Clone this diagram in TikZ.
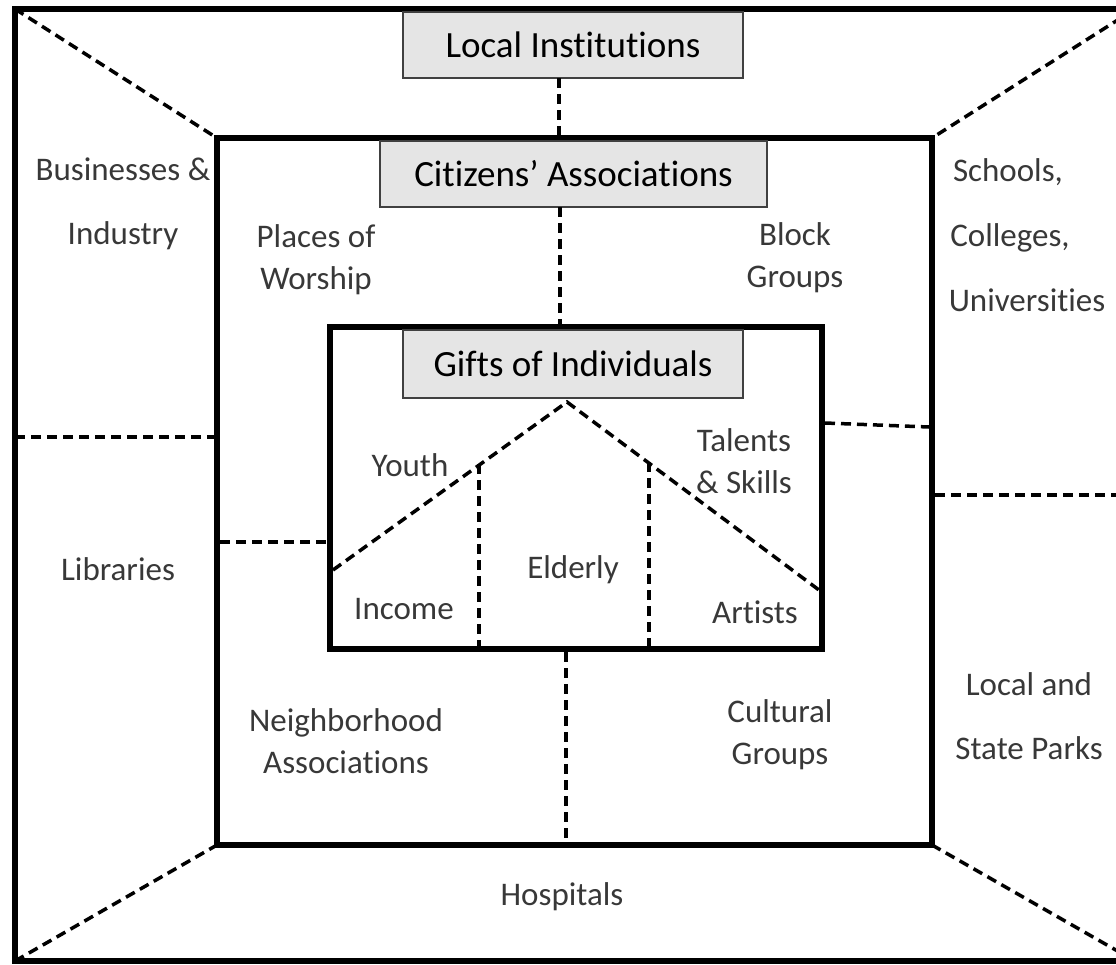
\documentclass[tikz,border=0pt]{standalone}
\usepackage{fontspec}
\setmainfont{Carlito}[Ligatures={NoCommon,NoContextual}]
\usetikzlibrary{positioning}

\begin{document}
\begin{tikzpicture}[x=1pt,y=-1pt,
    frame/.style={line width=6pt},
    link/.style={line width=3.5pt,dash pattern=on 10pt off 6pt},
    title/.style={draw=black!75,fill=black!10,line width=1.3pt,minimum height=66pt,font=\fontsize{37}{40}\selectfont},
    lbl/.style={align=center,text=black!78,font=\fontsize{33}{42}\selectfont},
    widelbl/.style={align=center,text=black!78,font=\fontsize{33}{64}\selectfont}]
    \useasboundingbox (0,0) rectangle (1116,964);
    % frames
    \coordinate (oNW) at (15,9);    \coordinate (oSE) at (1135,961);
    \coordinate (oNE) at (1135,9);  \coordinate (oSW) at (15,961);
    \coordinate (mNW) at (217,138); \coordinate (mSE) at (932,845);
    \coordinate (mNE) at (932,138); \coordinate (mSW) at (217,845);
    \coordinate (iNW) at (330,327); \coordinate (iSE) at (822,649);
    \draw[frame] (oNW) rectangle (oSE);
    \draw[frame] (mNW) rectangle (mSE);
    \draw[frame] (iNW) rectangle (iSE);
    % title boxes
    \node[title,minimum width=340pt] (local) at (573,45) {Local Institutions};
    \node[title,minimum width=387pt] (citizens) at (573.5,174) {Citizens’ Associations};
    \node[title,minimum width=340pt,minimum height=68pt] (gifts) at (573,364) {Gifts of Individuals};
    % dashed links
    \draw[link] (oNW) -- (mNW);
    \draw[link] (oNE) -- (mNE);
    \draw[link] (oSW) -- (mSW);
    \draw[link] (oSE) -- (mSE);
    \draw[link] (559,78) -- (559,135);
    \draw[link] (560,207) -- (560,324);
    \draw[link] (15,437) -- (214,437);
    \draw[link] (220,542) -- (327,542);
    \draw[link] (825,423) -- (929,427);
    \draw[link] (935,495) -- (1116,495);
    \draw[link] (566,652) -- (566,842);
    % roof
    \coordinate (roofL) at (333,570);
    \coordinate (apex) at (567,402);
    \coordinate (roofR) at (819,590);
    \draw[link] (roofL) -- (apex) -- (roofR);
    \draw[link] (479,464) -- (479,646);
    \draw[link] (649,462) -- (649,646);
    % labels
    \node[widelbl] (business) at (123,204) {Businesses \&\\Industry};
    \node[lbl] (libraries) at (118,569) {Libraries};
    \node[lbl] (hospitals) at (562,897) {Hospitals};
    \node[lbl] (schools) at (1008,172) {Schools,};
    \node[lbl] (colleges) at (1010,238) {Colleges,};
    \node[lbl] (univ) at (1027,300) {Universities};
    \node[widelbl] (parks) at (1029,716) {Local and\\State Parks};
    \node[lbl] (worship) at (316,260) {Places of\\Worship};
    \node[lbl] (block) at (795,258) {Block\\Groups};
    \node[lbl] (neighbor) at (346,741) {Neighborhood\\Associations};
    \node[lbl] (cultural) at (780,735) {Cultural\\Groups};
    \node[lbl] (youth) at (410,465) {Youth};
    \node[lbl] (talents) at (744,461) {Talents\\\& Skills};
    \node[lbl] (income) at (404,609) {Income};
    \node[lbl] (elderly) at (573,570) {Elderly};
    \node[lbl] (artists) at (755,612) {Artists};
\end{tikzpicture}
\end{document}
